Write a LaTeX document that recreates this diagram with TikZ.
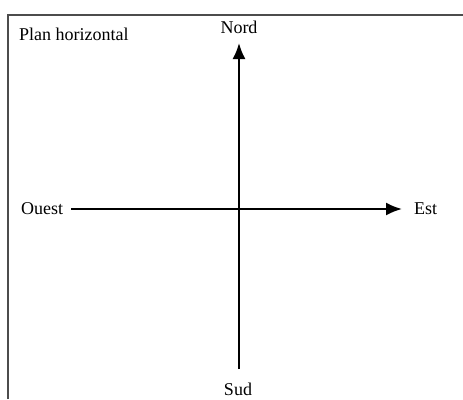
\documentclass[tikz,border=0pt]{standalone}
\usepackage{fontspec}
\setmainfont{Liberation Serif}
\usetikzlibrary{arrows.meta}
\begin{document}
\begin{tikzpicture}[x=1pt, y=-1pt, >={Latex[length=16pt,width=13pt]},
    lbl/.style={anchor=base, inner sep=0pt, font=\fontsize{18}{20}\selectfont},
    axe/.style={line width=2pt, ->}]
    \useasboundingbox (0,0) rectangle (463,399);
    % 1. Cadre
    \draw[line width=1.8pt, black!70] (8,399) -- (8,15) -- (463,15);
    \node[lbl, anchor=base west] (titre) at (19,40) {Plan horizontal};

    % 2. Axes
    \coordinate (ouestEnd) at (71,209);
    \coordinate (estEnd) at (402,209);
    \coordinate (nordEnd) at (239,43);
    \coordinate (sudEnd) at (239,369);
    \draw[axe] (ouestEnd) -- (estEnd);
    \draw[axe] (sudEnd) -- (nordEnd);

    % 3. Points cardinaux
    \node[lbl] (nord) at (239,33) {Nord};
    \node[lbl] (sud) at (238,395) {Sud};
    \node[lbl, anchor=base west] (ouest) at (21,214) {Ouest};
    \node[lbl, anchor=base west] (est) at (414,214) {Est};
\end{tikzpicture}
\end{document}
